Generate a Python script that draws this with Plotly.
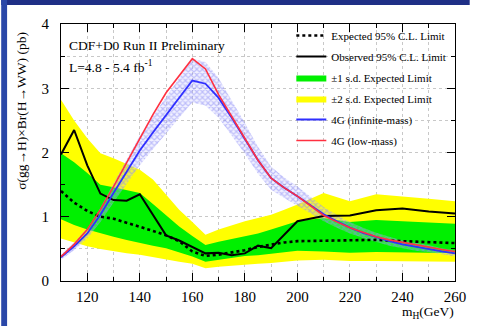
import plotly.graph_objects as go

# ---------------- data ----------------
mass = [110, 115, 120, 125, 130, 135, 140, 145, 150, 155, 160, 165, 170, 175,
        180, 185, 190, 195, 200, 210, 220, 230, 240, 250, 260]
expected = [1.40, 1.22, 1.09, 1.00, 0.97, 0.91, 0.85, 0.78, 0.71, 0.62, 0.46, 0.39,
            0.41, 0.44, 0.48, 0.53, 0.57, 0.60, 0.62, 0.63, 0.63, 0.64, 0.62, 0.60, 0.59]
observed = [1.97, 2.35, 1.80, 1.36, 1.26, 1.25, 1.35, 1.03, 0.71, 0.63, 0.53, 0.43,
            0.44, 0.40, 0.43, 0.55, 0.51, 0.72, 0.93, 1.01, 1.02, 1.10, 1.13, 1.08, 1.05]
sig1_hi = [1.99, 1.85, 1.68, 1.50, 1.46, 1.42, 1.37, 1.20, 1.02, 0.85, 0.70, 0.56,
           0.61, 0.65, 0.69, 0.74, 0.80, 0.87, 0.93, 0.98, 0.92, 0.95, 0.93, 0.92, 0.89]
sig1_lo = [0.96, 0.87, 0.80, 0.74, 0.69, 0.64, 0.59, 0.55, 0.51, 0.45, 0.38, 0.30,
           0.33, 0.36, 0.39, 0.40, 0.42, 0.45, 0.47, 0.46, 0.44, 0.45, 0.45, 0.44, 0.43]
sig2_hi = [2.82, 2.50, 2.22, 1.99, 1.91, 1.82, 1.73, 1.58, 1.35, 1.11, 0.92, 0.72,
           0.80, 0.87, 0.93, 0.98, 1.03, 1.11, 1.19, 1.37, 1.24, 1.35, 1.32, 1.28, 1.24]
sig2_lo = [0.66, 0.60, 0.54, 0.50, 0.46, 0.43, 0.41, 0.37, 0.33, 0.30, 0.27, 0.20,
           0.22, 0.24, 0.25, 0.27, 0.28, 0.30, 0.32, 0.33, 0.31, 0.31, 0.31, 0.31, 0.30]

mass4g = [110, 115, 120, 125, 130, 135, 140, 145, 150, 155, 160, 165, 170, 175, 180,
          185, 190, 195, 200, 205, 210, 215, 220, 225, 230, 235, 240, 245, 250, 255, 260]
g4_inf = [0.37, 0.54, 0.74, 1.03, 1.37, 1.71, 2.03, 2.31, 2.58, 2.85, 3.12, 3.07, 2.85,
          2.54, 2.22, 1.88, 1.60, 1.45, 1.32, 1.18, 1.04, 0.93, 0.83, 0.75, 0.68, 0.62,
          0.57, 0.53, 0.50, 0.46, 0.43]
g4_inf_hi = [0.41, 0.60, 0.82, 1.14, 1.52, 1.90, 2.26, 2.57, 2.86, 3.16, 3.46, 3.41, 3.16,
             2.82, 2.46, 2.09, 1.78, 1.61, 1.47, 1.31, 1.15, 1.03, 0.92, 0.83, 0.75, 0.69,
             0.63, 0.59, 0.56, 0.51, 0.48]
g4_inf_lo = [0.33, 0.48, 0.66, 0.92, 1.22, 1.52, 1.80, 2.05, 2.30, 2.54, 2.78, 2.73, 2.54,
             2.26, 1.98, 1.67, 1.42, 1.29, 1.17, 1.05, 0.93, 0.83, 0.74, 0.67, 0.61, 0.55,
             0.51, 0.47, 0.45, 0.41, 0.38]
g4_low = [0.38, 0.57, 0.80, 1.11, 1.47, 1.85, 2.23, 2.59, 2.93, 3.20, 3.46, 3.30, 2.90,
          2.56, 2.23, 1.88, 1.60, 1.45, 1.32, 1.17, 1.02, 0.92, 0.83, 0.76, 0.69, 0.64,
          0.60, 0.56, 0.52, 0.49, 0.46]

x_ticks = [120, 140, 160, 180, 200, 220, 240, 260]
y_ticks = [0, 1, 2, 3, 4]

SERIF = "Liberation Serif, Times New Roman, serif"

fig = go.Figure()

# +-2 sigma band
fig.add_trace(go.Scatter(x=mass, y=sig2_lo, mode="lines", line=dict(width=0),
                         showlegend=False, hoverinfo="skip", legendgroup="g4"))
fig.add_trace(go.Scatter(x=mass, y=sig2_hi, mode="lines", line=dict(width=0),
                         fill="tonexty", fillcolor="#ffff00",
                         name="±2 s.d. Expected Limit", legendgroup="g4", legendrank=4))
# +-1 sigma band
fig.add_trace(go.Scatter(x=mass, y=sig1_lo, mode="lines", line=dict(width=0),
                         showlegend=False, hoverinfo="skip", legendgroup="g3"))
fig.add_trace(go.Scatter(x=mass, y=sig1_hi, mode="lines", line=dict(width=0),
                         fill="tonexty", fillcolor="#00f000",
                         name="±1 s.d. Expected Limit", legendgroup="g3", legendrank=3))
# 4G hatched band
fig.add_trace(go.Scatter(x=mass4g, y=g4_inf_lo, mode="lines", line=dict(width=0),
                         showlegend=False, hoverinfo="skip", legendgroup="g5"))
fig.add_trace(go.Scatter(x=mass4g, y=g4_inf_hi, mode="lines", line=dict(width=0),
                         fill="tonexty", fillcolor="rgba(0,0,0,0)",
                         fillpattern=dict(shape="x", fgcolor="#8a8af5", bgcolor="rgba(200,200,255,0.25)",
                                          size=4, solidity=0.5),
                         showlegend=False, hoverinfo="skip", legendgroup="g5"))
# expected
fig.add_trace(go.Scatter(x=mass, y=expected, mode="lines",
                         line=dict(color="black", width=2.6, dash="dot"),
                         name="Expected 95% C.L. Limit", legendgroup="g1", legendrank=1))
# observed
fig.add_trace(go.Scatter(x=mass, y=observed, mode="lines",
                         line=dict(color="black", width=2),
                         name="Observed 95% C.L. Limit", legendgroup="g2", legendrank=2))
# 4G lines
fig.add_trace(go.Scatter(x=mass4g, y=g4_inf, mode="lines",
                         line=dict(color="#2f2fff", width=1.8),
                         name="4G (infinite-mass)", legendgroup="g5", legendrank=5))
fig.add_trace(go.Scatter(x=mass4g, y=g4_low, mode="lines",
                         line=dict(color="#ff3040", width=1.6),
                         name="4G (low-mass)", legendgroup="g6", legendrank=6))

W, H = 478, 326
L, R, T, B = 61, 15, 24, 45
pw, ph = W - L - R, H - T - B


def px_x(p):
    return (p - L) / pw


def px_y(p):
    return (H - B - p) / ph


shapes = [
    dict(type="rect", xref="paper", yref="paper", x0=px_x(0), x1=px_x(W), y0=px_y(0), y1=px_y(5),
         fillcolor="#1f2f86", line=dict(width=0), layer="below"),
    dict(type="rect", xref="paper", yref="paper", x0=px_x(0), x1=px_x(6), y0=px_y(0), y1=px_y(H),
         fillcolor="#2a47a8", line=dict(width=0), layer="below"),
]

annotations = [
    dict(text="CDF+D0 Run II Preliminary", xref="paper", yref="paper", x=px_x(67), y=px_y(45),
         xanchor="left", yanchor="middle", showarrow=False, font=dict(family=SERIF, size=13.5, color="black")),
    dict(text="L=4.8 - 5.4 fb<sup>-1</sup>", xref="paper", yref="paper", x=px_x(67), y=px_y(66),
         xanchor="left", yanchor="middle", showarrow=False, font=dict(family=SERIF, size=13.5, color="black")),
    dict(text="σ(gg→H)×Br(H→WW) (pb)", xref="paper", yref="paper", x=px_x(20), y=px_y(111),
         xanchor="center", yanchor="middle", textangle=-90, showarrow=False,
         font=dict(family=SERIF, size=13.5, color="black")),
    dict(text="m<sub>H</sub>(GeV)", xref="paper", yref="paper", x=px_x(464), y=px_y(312),
         xanchor="right", yanchor="middle", showarrow=False, font=dict(family=SERIF, size=13.5, color="black")),
]

fig.update_layout(
    width=W, height=H,
    margin=dict(l=L, r=R, t=T, b=B, pad=0),
    paper_bgcolor="white", plot_bgcolor="white",
    shapes=shapes, annotations=annotations,
    showlegend=True,
    legend=dict(x=px_x(296), y=px_y(21), xanchor="left", yanchor="top",
                bgcolor="rgba(0,0,0,0)", borderwidth=0, itemwidth=30,
                tracegroupgap=2, traceorder="grouped",
                font=dict(family=SERIF, size=11, color="black")),
    xaxis=dict(range=[110, 260], tickmode="array", tickvals=x_ticks, ticktext=[str(v) for v in x_ticks],
               ticks="inside", ticklen=8, tickcolor="black", showline=True, linecolor="black",
               linewidth=1, mirror="ticks", showgrid=True, gridcolor="#c8c8c8", griddash="dot",
               gridwidth=1, zeroline=False,
               minor=dict(dtick=10, tick0=110, ticks="inside", ticklen=4, tickcolor="black",
                          showgrid=True, gridcolor="#c8c8c8", griddash="dot", gridwidth=1),
               tickfont=dict(family=SERIF, size=15, color="black"), ticklabelstandoff=2),
    yaxis=dict(range=[0, 4], tickmode="array", tickvals=y_ticks, ticktext=[str(v) for v in y_ticks],
               ticks="inside", ticklen=8, tickcolor="black", showline=True, linecolor="black",
               linewidth=1, mirror="ticks", showgrid=True, gridcolor="#c8c8c8", griddash="dot",
               gridwidth=1, zeroline=False,
               minor=dict(dtick=0.5, tick0=0, ticks="inside", ticklen=4, tickcolor="black",
                          showgrid=True, gridcolor="#c8c8c8", griddash="dot", gridwidth=1),
               tickfont=dict(family=SERIF, size=15, color="black"), ticklabelstandoff=8),
)

fig.write_html("out.html")
